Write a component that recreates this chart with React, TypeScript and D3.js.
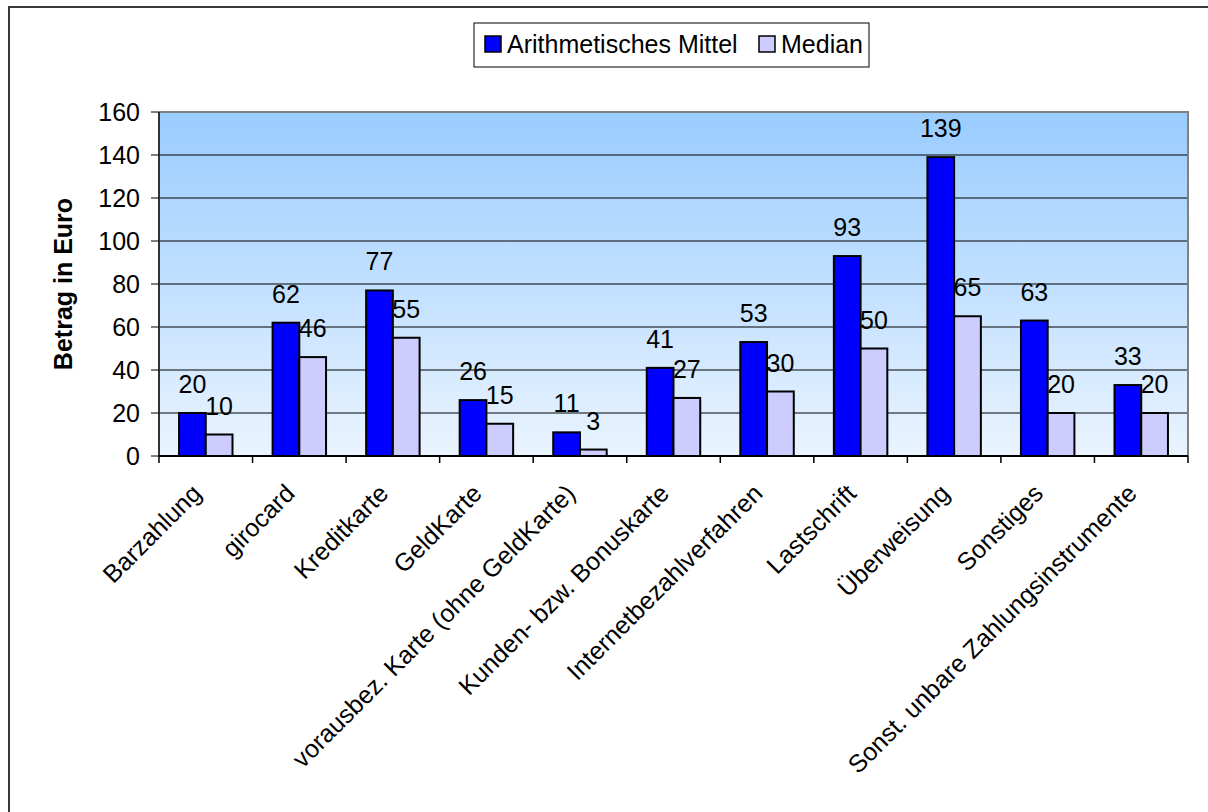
import React from "react";
import * as d3 from "d3";

const categories = [
  "Barzahlung",
  "girocard",
  "Kreditkarte",
  "GeldKarte",
  "vorausbez. Karte (ohne GeldKarte)",
  "Kunden- bzw. Bonuskarte",
  "Internetbezahlverfahren",
  "Lastschrift",
  "Überweisung",
  "Sonstiges",
  "Sonst. unbare Zahlungsinstrumente",
];
const meanValues = [20, 62, 77, 26, 11, 41, 53, 93, 139, 63, 33];
const medianValues = [10, 46, 55, 15, 3, 27, 30, 50, 65, 20, 20];
const seriesNames = ["Arithmetisches Mittel", "Median"];
const seriesColors = ["#0000FF", "#CCCCFF"];
const yTicks = [0, 20, 40, 60, 80, 100, 120, 140, 160];
const yTitle = "Betrag in Euro";

const W = 1208;
const H = 812;
const plot = { left: 159, right: 1188, top: 112, bottom: 456 };
const FONT = "'Liberation Sans', Arial, Helvetica, sans-serif";
const FS = 25;

export default function App() {
  const x = d3
    .scaleBand<string>()
    .domain(categories)
    .range([plot.left, plot.right])
    .paddingInner(0)
    .paddingOuter(0);
  const y = d3.scaleLinear().domain([0, 160]).range([plot.bottom, plot.top]);
  const bw = x.bandwidth();
  // gap width of 150% between groups
  const barW = bw / 3.5;
  const groupOffset = (bw - 2 * barW) / 2;

  const series = [meanValues, medianValues];

  return (
    <svg
      width={W}
      height={H}
      style={{ position: "absolute", left: 0, top: 0, display: "block", background: "#fff" }}
      fontFamily={FONT}
    >
      <defs>
        <linearGradient id="plotBg" x1="0" y1="0" x2="0" y2="1">
          <stop offset="0%" stopColor="#99CCFF" />
          <stop offset="100%" stopColor="#EAF4FF" />
        </linearGradient>
      </defs>
      <rect x={0} y={0} width={W} height={H} fill="#fff" />
      {/* chart frame */}
      <path d={`M9,${H + 5} L9,7 L${W + 5},7`} fill="none" stroke="#3a3a3a" strokeWidth={2} />

      {/* plot background */}
      <rect
        x={plot.left}
        y={plot.top}
        width={plot.right - plot.left}
        height={plot.bottom - plot.top}
        fill="url(#plotBg)"
      />
      {/* gridlines */}
      {yTicks.slice(1, -1).map((t) => (
        <line key={t} x1={plot.left} x2={plot.right} y1={y(t)} y2={y(t)} stroke="#000" strokeWidth={1} />
      ))}
      {/* plot top / right border */}
      <path
        d={`M${plot.left},${plot.top} L${plot.right},${plot.top} L${plot.right},${plot.bottom}`}
        fill="none"
        stroke="#808080"
        strokeWidth={2}
      />

      {/* bars */}
      {categories.map((c, i) =>
        series.map((vals, s) => {
          const bx = (x(c) as number) + groupOffset + s * barW;
          const by = y(vals[i]);
          return (
            <rect
              key={c + s}
              x={bx}
              y={by}
              width={barW}
              height={y(0) - by}
              fill={seriesColors[s]}
              stroke="#000"
              strokeWidth={2}
            />
          );
        })
      )}

      {/* data labels */}
      {categories.map((c, i) =>
        series.map((vals, s) => {
          const cx = (x(c) as number) + groupOffset + s * barW + barW / 2;
          return (
            <text key={"l" + c + s} x={cx} y={y(vals[i]) - 20} fontSize={FS} textAnchor="middle" fill="#000">
              {vals[i]}
            </text>
          );
        })
      )}

      {/* y axis */}
      <line x1={plot.left} x2={plot.left} y1={plot.top} y2={plot.bottom} stroke="#333" strokeWidth={2} />
      {yTicks.map((t) => (
        <g key={"yt" + t}>
          <line x1={plot.left - 8} x2={plot.left} y1={y(t)} y2={y(t)} stroke="#000" strokeWidth={1} />
          <text x={plot.left - 19} y={y(t) + 9} fontSize={FS} textAnchor="end" fill="#000">
            {t}
          </text>
        </g>
      ))}
      <text
        transform={`translate(72,${(plot.top + plot.bottom) / 2}) rotate(-90)`}
        fontSize={FS}
        fontWeight="bold"
        textAnchor="middle"
        fill="#000"
      >
        {yTitle}
      </text>

      {/* x axis */}
      <line x1={plot.left} x2={plot.right} y1={plot.bottom} y2={plot.bottom} stroke="#000" strokeWidth={2} />
      {[...categories.map((c) => x(c) as number), plot.right].map((px, i) => (
        <line key={"xt" + i} x1={px} x2={px} y1={plot.bottom} y2={plot.bottom + 7} stroke="#000" strokeWidth={1.5} />
      ))}
      {categories.map((c) => {
        const cx = (x(c) as number) + bw / 2;
        return (
          <text
            key={"xl" + c}
            transform={`translate(${cx - 3},${495}) rotate(-45)`}
            fontSize={FS}
            textAnchor="end"
            fill="#000"
          >
            {c}
          </text>
        );
      })}

      {/* legend */}
      <rect x={474} y={23} width={395} height={44} fill="#fff" stroke="#000" strokeWidth={1} />
      {seriesNames.map((n, i) => {
        const lx = i === 0 ? 485 : 759;
        return (
          <g key={"lg" + n}>
            <rect x={lx} y={36} width={16} height={16} fill={seriesColors[i]} stroke="#000" strokeWidth={1.5} />
            <text x={lx + 22} y={53} fontSize={FS} fill="#000">
              {n}
            </text>
          </g>
        );
      })}
    </svg>
  );
}
